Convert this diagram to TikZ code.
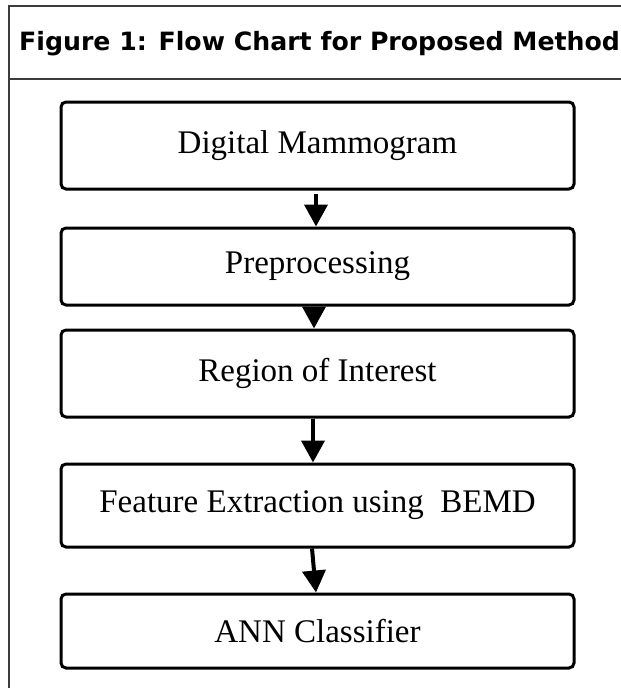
\documentclass[tikz,border=0pt]{standalone}
\usepackage{fontspec}
\setmainfont{Liberation Serif}
\newfontfamily\headfont{DejaVu Sans}
\usepackage{tikz}
\usetikzlibrary{arrows.meta, positioning}
\definecolor{framecolor}{RGB}{60, 60, 60}
\tikzstyle{stage} = [rectangle, rounded corners=5pt, minimum width=513pt, text centered, draw=black, line width=3pt, font=\fontsize{33}{38}\selectfont, inner sep=0pt]
\tikzstyle{arrow} = [line width=4pt, -{Triangle[width=23pt, length=22pt]}]
\tikzstyle{frame} = [draw=framecolor, line width=1.3pt]

\begin{document}
\begin{tikzpicture}[x=1pt, y=-1pt]
\useasboundingbox (0,0) rectangle (621,688);

% Cadre + titre
\draw [frame] (621,6) -- (9,6) -- (9,688);
\draw [frame] (9,79) -- (621,79);
\node (title) [anchor=base west, inner sep=0pt, font=\headfont\bfseries\fontsize{25.2}{29}\selectfont] at (19,50) {Figure 1: Flow Chart for Proposed Method};

% Etapes
\node (mammo) [stage, minimum height=87pt] at (317.5,145.5) {Digital Mammogram};
\node (preproc) [stage, minimum height=77pt] at (317.5,266.5) {Preprocessing};
\node (roi) [stage, minimum height=87pt] at (317.5,373.5) {Region of Interest};
\node (feature) [stage, minimum height=83pt] at (317.5,505.5) {Feature Extraction using~ BEMD};
\node (ann) [stage, minimum height=74pt] at (317.5,631) {ANN Classifier};

% Fleches
\draw [arrow] ([xshift=-1.5pt, yshift=-3pt]mammo.south) -- ([xshift=-1.5pt]preproc.north);
\draw [arrow] ([xshift=-3.5pt, yshift=-2pt]preproc.south) -- ([xshift=-3.5pt]roi.north);
\draw [arrow] ([xshift=-4.5pt]roi.south) -- ([xshift=-4.5pt]feature.north);
\draw [arrow] ([xshift=-5.5pt]feature.south) -- ([xshift=-1.5pt]ann.north);

\end{tikzpicture}
\end{document}
